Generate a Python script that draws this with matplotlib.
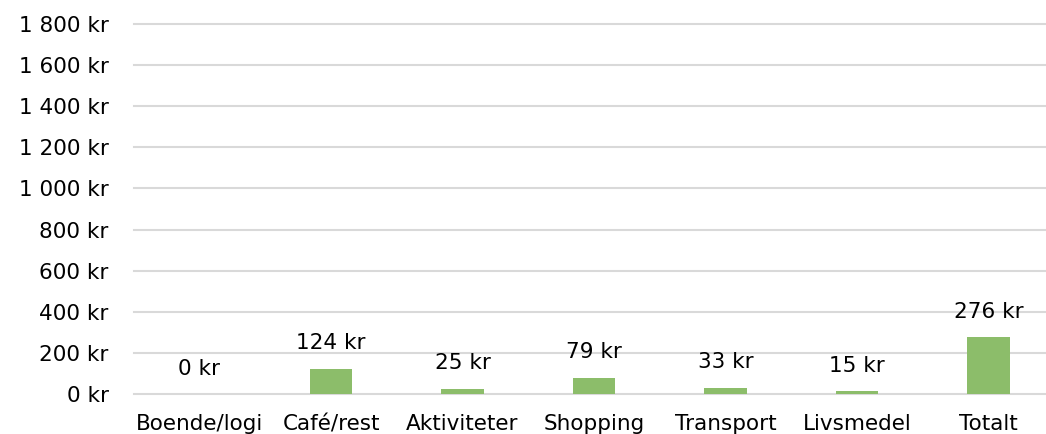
import matplotlib
matplotlib.use("Agg")
import matplotlib.pyplot as plt
from matplotlib.ticker import FuncFormatter

categories = ["Boende/logi", "Café/rest", "Aktiviteter", "Shopping", "Transport", "Livsmedel", "Totalt"]
values = [0, 124, 25, 79, 33, 15, 276]
yticks = [0, 200, 400, 600, 800, 1000, 1200, 1400, 1600, 1800]

plt.rcParams['font.family'] = ['DejaVu Sans']

W, H = 1046, 434
fig = plt.figure(figsize=(W/100, H/100), dpi=100)
left, right = 133.75, 1054.25
bottom, top = 394.3, 23.5
ax = fig.add_axes([left/W, 1 - bottom/H, (right-left)/W, (bottom-top)/H])

x = list(range(len(categories)))
ax.bar(x, values, width=0.32, color="#8cbd6a", zorder=3)
ax.set_xlim(-0.5, len(categories) - 0.5)
ax.set_ylim(0, 1800)
ax.set_yticks(yticks)
ax.yaxis.set_major_formatter(FuncFormatter(lambda v, p: f"{int(v):,} kr".replace(",", " ")))
ax.set_xticks(x)
ax.set_xticklabels(categories)
for yv in yticks:
    ax.axhline(yv, color="#d9d9d9", linewidth=1.5, zorder=0, clip_on=False)
for s in ax.spines.values():
    s.set_visible(False)
ax.tick_params(axis='both', length=0, labelsize=15.5, colors="#000000")
ax.tick_params(axis='y', pad=18)
ax.tick_params(axis='x', pad=14.5)

for xi, v in zip(x, values):
    ax.annotate(f"{v} kr", (xi, v), xytext=(0, 18.5), textcoords='offset points',
                ha='center', va='center', fontsize=15.5)

fig.savefig("out.png", dpi=100)
